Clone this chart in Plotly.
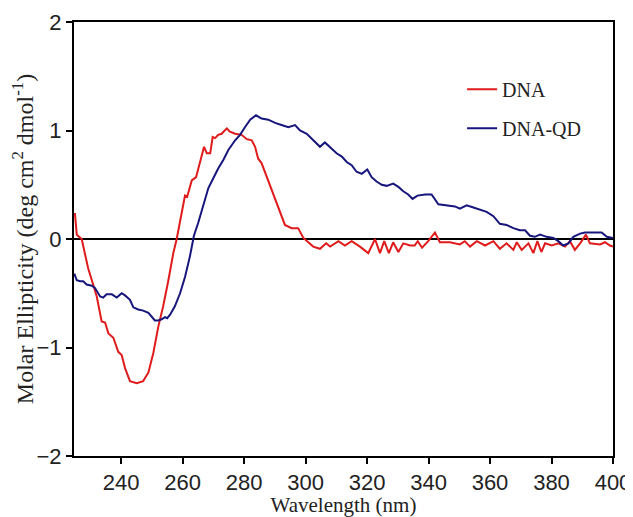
import plotly.graph_objects as go

# DNA (red) trace
dna_wl = [225.0, 225.6, 227.2, 228.3, 229.3, 230.5, 232.1, 233.7, 234.8, 235.9, 237.5, 239.1, 240.2,
          241.3, 242.9, 245.1, 247.2, 248.9, 250.5, 252.1, 253.7, 255.4, 257.0, 258.1, 259.2, 260.8,
          261.5, 263.0, 264.4, 265.7, 267.0, 267.9, 269.0, 269.8, 270.6, 271.6, 272.7, 274.4, 275.4,
          277.1, 279.2, 280.9, 282.5, 283.6, 284.6, 285.7, 287.4, 289.0, 290.6, 292.3, 293.3, 295.5,
          297.6, 299.3, 300.4, 302.5, 304.7, 306.7, 308.0, 310.7, 312.8, 315.0, 317.7, 320.4, 322.6,
          324.2, 325.6, 327.1, 328.5, 330.2, 331.8, 334.0, 335.5, 336.5, 337.9, 339.9, 342.1, 343.7,
          347.0, 350.2, 351.8, 353.5, 355.7, 358.4, 361.1, 363.2, 365.4, 367.6, 368.7, 370.3, 372.5,
          374.1, 375.4, 376.7, 377.9, 380.1, 382.2, 384.4, 386.0, 387.6, 389.3, 391.2, 392.5, 395.8,
          397.4, 399.0, 400.0]
dna_val = [0.24, 0.04, 0.00, -0.13, -0.27, -0.38, -0.53, -0.76, -0.77, -0.87, -0.91, -1.04, -1.07,
           -1.19, -1.31, -1.33, -1.31, -1.23, -1.05, -0.81, -0.62, -0.38, -0.13, 0.00, 0.15, 0.40,
           0.39, 0.54, 0.57, 0.70, 0.85, 0.79, 0.79, 0.94, 0.93, 0.96, 0.97, 1.02, 0.99,
           0.97, 0.96, 0.92, 0.91, 0.85, 0.74, 0.70, 0.57, 0.44, 0.33, 0.19, 0.13, 0.10,
           0.10, 0.01, -0.02, -0.07, -0.09, -0.04, -0.07, -0.02, -0.06, -0.02, -0.07, -0.13, 0.00,
           -0.13, -0.02, -0.13, -0.03, -0.12, -0.04, -0.06, -0.06, -0.02, -0.08, -0.02, 0.06, -0.03,
           -0.03, -0.05, -0.02, -0.07, -0.02, -0.06, -0.02, -0.09, -0.04, -0.10, -0.03, -0.10, -0.04,
           -0.13, -0.02, -0.12, -0.04, -0.06, -0.04, -0.07, -0.02, -0.10, -0.04, 0.04, -0.04, -0.05,
           -0.03, -0.06, -0.07]

# DNA-QD (blue) trace
qd_wl = [224.8, 225.6, 226.7, 227.7, 228.8, 230.5, 231.5, 233.2, 234.2, 235.3, 237.0, 238.6, 240.2,
         241.3, 242.9, 244.0, 245.6, 247.2, 248.9, 250.0, 251.0, 252.1, 253.2, 254.3, 255.0, 255.9,
         257.5, 259.2, 260.8, 262.4, 263.7, 265.1, 266.7, 268.4, 270.0, 271.6, 273.3, 274.9, 277.1,
         278.7, 280.3, 282.0, 283.9, 285.7, 287.9, 290.1, 292.2, 294.4, 296.6, 298.2, 300.4, 302.5,
         304.7, 306.3, 307.9, 310.1, 311.8, 313.4, 315.0, 316.6, 318.3, 320.1, 321.5, 323.1, 324.8,
         326.4, 328.5, 330.2, 331.8, 333.4, 334.8, 336.4, 338.9, 341.0, 343.2, 345.9, 348.6, 350.2,
         352.4, 354.6, 356.7, 358.9, 361.1, 363.2, 365.4, 367.6, 369.7, 371.4, 373.0, 374.6, 376.3,
         378.4, 380.6, 382.2, 383.8, 385.5, 387.1, 389.3, 390.9, 393.6, 396.3, 398.0, 400.0]
qd_val = [-0.32, -0.38, -0.39, -0.39, -0.42, -0.43, -0.45, -0.53, -0.54, -0.51, -0.51, -0.54, -0.50,
          -0.52, -0.56, -0.63, -0.65, -0.66, -0.68, -0.72, -0.75, -0.75, -0.74, -0.72, -0.73, -0.70,
          -0.62, -0.50, -0.35, -0.16, 0.03, 0.15, 0.30, 0.47, 0.56, 0.65, 0.73, 0.82, 0.91,
          0.96, 1.03, 1.10, 1.14, 1.11, 1.10, 1.07, 1.05, 1.03, 1.05, 1.00, 0.97, 0.91,
          0.85, 0.89, 0.85, 0.79, 0.76, 0.71, 0.68, 0.62, 0.60, 0.64, 0.57, 0.53, 0.50,
          0.49, 0.51, 0.48, 0.44, 0.41, 0.37, 0.40, 0.41, 0.41, 0.32, 0.31, 0.30, 0.28,
          0.31, 0.29, 0.27, 0.25, 0.21, 0.14, 0.13, 0.10, 0.08, 0.08, 0.03, 0.02, 0.04,
          0.02, 0.01, -0.02, -0.06, -0.04, 0.02, 0.05, 0.06, 0.06, 0.06, 0.02, 0.01]

x_ticks = [240, 260, 280, 300, 320, 340, 360, 380, 400]
y_ticks = [-2, -1, 0, 1, 2]

serif = "Liberation Serif, Times New Roman, serif"
sans = "Liberation Sans, Arial, sans-serif"

fig = go.Figure()
fig.add_trace(go.Scatter(x=dna_wl, y=dna_val, mode="lines", name="DNA",
                         line=dict(color="#e01b1b", width=2), legendgroup="a"))
fig.add_trace(go.Scatter(x=qd_wl, y=qd_val, mode="lines", name="DNA-QD",
                         line=dict(color="#16167c", width=2), legendgroup="b"))

fig.update_layout(
    width=625, height=509,
    margin=dict(l=66, r=20, t=14, b=61),
    paper_bgcolor="white", plot_bgcolor="white",
    showlegend=True,
    legend=dict(x=0.72, y=0.89, xanchor="left", yanchor="top",
                font=dict(family=serif, size=20, color="#222"),
                bgcolor="rgba(0,0,0,0)", tracegroupgap=10),
    xaxis=dict(range=[224.7, 400], tickvals=x_ticks, ticks="outside", ticklen=6, tickwidth=2,
               tickcolor="black", showline=True, linecolor="black", linewidth=2, mirror=True,
               showgrid=False, zeroline=False, automargin=False,
               tickfont=dict(family=sans, size=22, color="#222"),
               title=dict(text="Wavelength (nm)", font=dict(family=serif, size=21, color="#222"),
                          standoff=10)),
    yaxis=dict(range=[-2, 2], tickvals=y_ticks, ticks="outside", ticklen=6, tickwidth=2,
               tickcolor="black", showline=True, linecolor="black", linewidth=2, mirror=True,
               showgrid=False, zeroline=True, zerolinecolor="black", zerolinewidth=2,
               automargin=False,
               tickfont=dict(family=sans, size=22, color="#222"),
               title=dict(text="Molar Ellipticity (deg cm<sup>2</sup> dmol<sup>-1</sup>)",
                          font=dict(family=serif, size=24, color="#222"), standoff=0)),
)

fig.write_html("out.html")
